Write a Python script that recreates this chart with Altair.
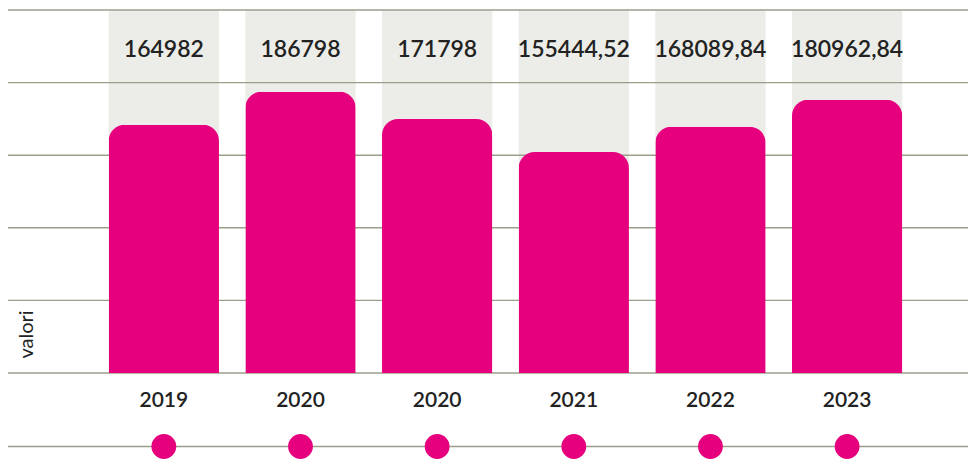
import altair as alt
import pandas as pd

years = ["2019", "2020", "2020", "2021", "2022", "2023"]
bar_values = [171000, 193700, 174900, 152200, 169600, 188200]
labels = ["164982", "186798", "171798", "155444,52", "168089,84", "180962,84"]
grid_ticks = [0, 50000, 100000, 150000, 200000, 250000]
Y_MAX = 250000

MAGENTA = "#E6007E"
BAND = "#ECEDE8"
GRID = "#9d9d8c"
TEXT = "#222222"
FONT = "Lato"

df = pd.DataFrame({"idx": list(range(len(years))), "year": years,
                   "value": bar_values, "label": labels})
ticks_df = pd.DataFrame({"tick": grid_ticks})

label_expr = "[" + ",".join("'%s'" % y for y in years) + "][datum.value]"

x_enc = alt.X(
    "idx:O",
    scale=alt.Scale(paddingInner=0.193, paddingOuter=0.609, align=0.605),
    axis=alt.Axis(title=None, labelExpr=label_expr, labelAngle=0, ticks=False,
                  tickSize=0, domain=False, labelPadding=27,
                  labelBaseline="middle", labelFontSize=21, labelFont=FONT,
                  labelColor=TEXT, labelFontWeight=600),
)
y_scale = alt.Scale(domain=[0, Y_MAX])
y_axis = alt.Axis(title="valori", grid=False, labels=False, ticks=False,
                  domain=False, titleAngle=-90, titleX=24.5, titleY=324,
                  titleAlign="center", titleBaseline="alphabetic",
                  titleFont=FONT, titleFontSize=20,
                  titleFontWeight="normal", titleColor=TEXT)

base = alt.Chart(df)

bands = base.mark_bar(color=BAND).encode(
    x=x_enc,
    y=alt.Y(datum=Y_MAX, type="quantitative", scale=y_scale, axis=y_axis),
    y2=alt.Y2(datum=0),
)

grid = alt.Chart(ticks_df).mark_rule(color=GRID, strokeWidth=1.4).encode(
    y=alt.Y("tick:Q", scale=y_scale, axis=y_axis)
)

bars = base.mark_bar(color=MAGENTA, cornerRadiusTopLeft=16,
                     cornerRadiusTopRight=16).encode(
    x=x_enc,
    y=alt.Y("value:Q", scale=y_scale, axis=y_axis),
)

value_text = base.mark_text(font=FONT, fontSize=23, color=TEXT, dy=40,
                            baseline="middle", fontWeight=600).encode(
    x=x_enc,
    y=alt.Y(datum=Y_MAX, type="quantitative", scale=y_scale, axis=y_axis),
    text="label:N",
)

bottom_line = alt.Chart(pd.DataFrame({"k": [0]})).mark_rule(
    color=GRID, strokeWidth=1.4).encode(y=alt.value(436.5))

dots = base.mark_circle(size=616, color=MAGENTA, opacity=1).encode(
    x=x_enc, y=alt.value(436.5)
)

chart = alt.layer(bands, grid, bars, value_text, bottom_line, dots).properties(
    width=960, height=363,
    autosize=alt.AutoSizeParams(type="none"),
    padding={"left": 8, "top": 10, "right": 0, "bottom": 86},
    background="white",
).configure_view(strokeWidth=0)

chart.save("out.html", embed_options={"renderer": "svg", "actions": False})
